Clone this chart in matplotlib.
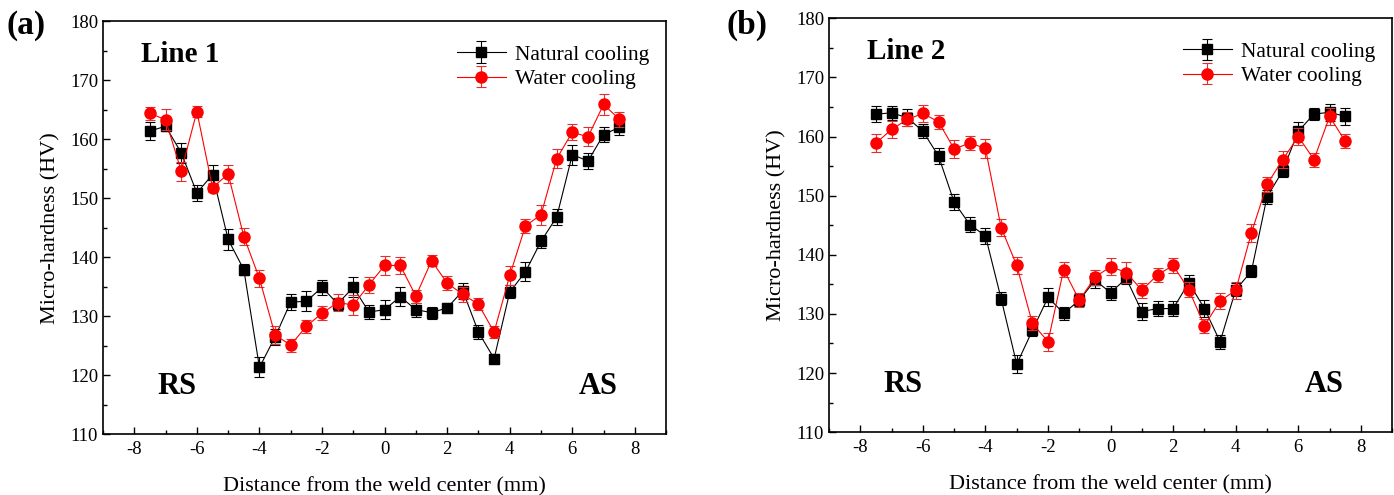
import numpy as np
import matplotlib
matplotlib.use("Agg")
import matplotlib.pyplot as plt
from matplotlib.ticker import MultipleLocator

plt.rcParams['font.family'] = ['Liberation Serif', 'DejaVu Serif']
plt.rcParams['axes.unicode_minus'] = False

# distance from weld center (mm)
dist = [-7.5, -7.0, -6.5, -6.0, -5.5, -5.0, -4.5, -4.0, -3.5, -3.0, -2.5, -2.0, -1.5, -1.0, -0.5, 0.0,
        0.5, 1.0, 1.5, 2.0, 2.5, 3.0, 3.5, 4.0, 4.5, 5.0, 5.5, 6.0, 6.5, 7.0, 7.5]

# Line 1
l1_natural = [161.4, 162.2, 157.7, 150.9, 154.0, 143.0, 137.9, 121.3, 126.5, 132.4, 132.5, 134.9, 132.1, 134.9,
              130.7, 131.1, 133.3, 131.1, 130.6, 131.4, 134.3, 127.3, 122.8, 134.1, 137.5, 142.7, 146.8,
              157.4, 156.3, 160.8, 162.0]
l1_natural_err = [1.5, 0.8, 1.7, 1.3, 1.6, 1.7, 0.9, 1.7, 1.4, 1.4, 1.7, 1.3, 1.0, 1.7, 1.2, 1.6,
                  1.6, 1.2, 1.0, 0.8, 1.4, 1.2, 0.8, 1.1, 1.6, 1.1, 1.4, 1.7, 1.3, 1.3, 1.3]
l1_water = [164.4, 163.3, 154.6, 164.7, 151.8, 154.1, 143.5, 136.4, 126.8, 125.1, 128.3, 130.5, 132.3, 131.9,
            135.3, 138.6, 138.6, 133.4, 139.4, 135.6, 133.7, 132.0, 127.3, 136.9, 145.3, 147.2, 156.7,
            161.2, 160.4, 165.9, 163.4]
l1_water_err = [1.1, 1.8, 1.6, 0.9, 0.8, 1.6, 1.4, 1.4, 1.5, 1.1, 1.1, 1.2, 1.5, 1.7, 1.3, 1.6,
                1.4, 1.1, 0.9, 1.2, 1.3, 1.0, 1.0, 1.6, 1.2, 1.7, 1.6, 1.4, 1.6, 1.8, 1.3]

# Line 2
l2_natural = [163.8, 164.0, 163.2, 160.9, 156.7, 148.9, 145.1, 143.2, 132.6, 121.5, 127.2, 132.8, 130.1, 132.3,
              135.7, 133.6, 136.0, 130.4, 130.9, 130.9, 135.3, 130.9, 125.3, 134.1, 137.2, 149.8, 154.2,
              160.9, 163.8, 164.1, 163.4]
l2_natural_err = [1.4, 1.2, 1.4, 1.2, 1.4, 1.3, 1.3, 1.3, 1.1, 1.5, 0.9, 1.5, 1.1, 1.0, 1.3, 1.2,
                  0.9, 1.4, 1.2, 1.2, 1.3, 1.4, 1.2, 1.1, 1.0, 1.2, 1.0, 1.5, 1.0, 1.4, 1.5]
l2_water = [158.9, 161.2, 162.9, 163.9, 162.5, 157.9, 158.9, 158.0, 144.6, 138.2, 128.4, 125.3, 137.5, 132.3,
            136.2, 138.0, 137.0, 134.0, 136.6, 138.2, 134.1, 128.0, 132.2, 134.0, 143.7, 151.9, 156.1,
            160.0, 156.1, 163.4, 159.2]
l2_water_err = [1.5, 1.4, 1.2, 1.4, 1.2, 1.5, 1.2, 1.6, 1.4, 1.5, 1.2, 1.5, 1.2, 1.2, 1.3, 1.4,
                1.7, 1.3, 1.2, 1.2, 1.3, 1.2, 1.3, 1.4, 1.5, 1.3, 1.4, 1.4, 1.2, 1.4, 1.2]

panels = [
    ('(a)', 'Line 1', l1_natural, l1_natural_err, l1_water, l1_water_err),
    ('(b)', 'Line 2', l2_natural, l2_natural_err, l2_water, l2_water_err),
]

fig = plt.figure(figsize=(13.94, 4.95), dpi=100)
ax_rects = [[0.0739, 0.123, 0.404, 0.834], [0.5947, 0.127, 0.404, 0.836]]
letter_pos = [(0.005, 0.948), (0.521, 0.948)]

for i, (letter, line_name, nat, nat_err, wat, wat_err) in enumerate(panels):
    ax = fig.add_axes(ax_rects[i])
    ax.errorbar(dist, nat, yerr=nat_err, color='black', marker='s', markersize=7,
                linewidth=0.8, elinewidth=0.8, capsize=3.5, capthick=0.8, label='Natural cooling', zorder=3)
    ax.errorbar(dist, wat, yerr=wat_err, color='red', ecolor='#e03030', marker='o', markersize=8,
                linewidth=0.8, elinewidth=0.8, capsize=3.5, capthick=0.8, label='Water cooling', zorder=4)

    ax.set_xlim(-9, 9)
    ax.set_ylim(110, 180)
    ax.xaxis.set_major_locator(MultipleLocator(2))
    ax.xaxis.set_minor_locator(MultipleLocator(1))
    ax.yaxis.set_major_locator(MultipleLocator(10))
    ax.yaxis.set_minor_locator(MultipleLocator(5))
    ax.tick_params(which='both', direction='in', top=False, right=False, labelsize=13.5, width=1.0)
    ax.tick_params(which='major', length=5)
    ax.tick_params(which='minor', length=3)
    ax.tick_params(axis='x', pad=5)
    for sp in ax.spines.values():
        sp.set_linewidth(1.2)

    ax.set_xlabel('Distance from the weld center (mm)', fontsize=16, labelpad=14)
    ax.set_ylabel('Micro-hardness (HV)', fontsize=16, labelpad=7)

    ax.text(-7.8, 174.4, line_name, fontsize=21, fontweight='bold', va='center', ha='left')
    ax.text(-7.25, 118.0, 'RS', fontsize=22, fontweight='bold', va='center', ha='left')
    ax.text(7.45, 118.0, 'AS', fontsize=22, fontweight='bold', va='center', ha='right')

    ax.legend(loc='upper right', frameon=False, fontsize=15.5, handlelength=2.3,
              handletextpad=0.4, labelspacing=0.2, borderaxespad=0.4, bbox_to_anchor=(1.0, 0.985))

    fig.text(letter_pos[i][0], letter_pos[i][1], letter, fontsize=24, fontweight='bold', va='center', ha='left')

fig.savefig('out.png', dpi=100)
